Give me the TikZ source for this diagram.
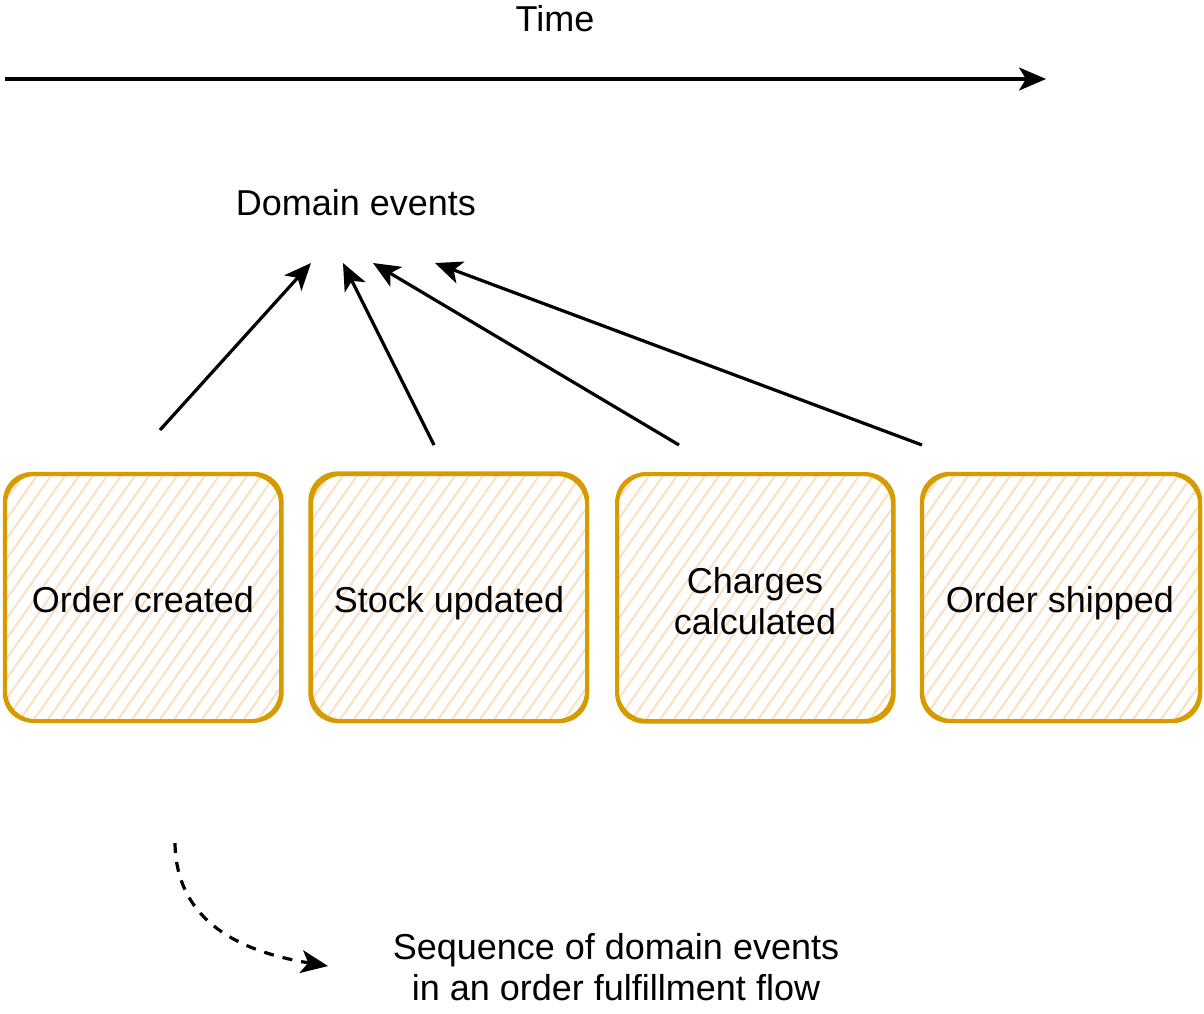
\documentclass[tikz,border=0pt]{standalone}
\usepackage{fontspec}
\setmainfont{Liberation Sans}
\usetikzlibrary{arrows.meta,calc}
\definecolor{boxstroke}{HTML}{D79B00}
\definecolor{hatchcol}{RGB}{252,222,190}
\tikzset{
  txt/.style={font=\fontsize{36}{41}\selectfont, text=black, inner sep=0pt, align=center},
  evbox/.style={draw=boxstroke, line width=4pt, rounded corners=30pt,
    minimum width=276pt, minimum height=247pt, inner sep=0pt,
    path picture={
      \foreach \i in {-16,...,22}
        \draw[hatchcol, line width=1.9pt]
          ($(path picture bounding box.south west)+(\i*14pt,0pt)$) -- ++(176pt,251pt);
    }},
  sketch/.style={draw=boxstroke, line width=2.2pt, rounded corners=28pt},
  arr/.style={line width=3.2pt, -{Stealth[length=27pt,width=23pt,inset=7pt]}},
  darr/.style={line width=3.2pt, dash pattern=on 10pt off 9pt,
    -{Stealth[length=27pt,width=23pt,inset=7pt]}}
}
\begin{document}
\begin{tikzpicture}[x=1pt,y=-1pt]
\useasboundingbox (0,0) rectangle (1204,1013);
% time axis
\node[txt] (time) at (555,19) {Time};
\coordinate (t0) at (5,79);
\coordinate (t1) at (1046,79);
\draw[arr] (t0) -- (t1);
% domain events
\node[txt] (de) at (356,203) {Domain events};
% boxes
\node[evbox] (b1) at (143,597.5) {};
\node[evbox] (b2) at (449,597.5) {};
\node[evbox] (b3) at (755,597.5) {};
\node[evbox, minimum width=278pt] (b4) at (1061,597.5) {};
\draw[sketch] ([shift={(1pt,1.5pt)}]b1.south west) rectangle ([shift={(-0.5pt,-1pt)}]b1.north east);
\draw[sketch] ([shift={(0.5pt,1pt)}]b2.south west) rectangle ([shift={(-1pt,-0.5pt)}]b2.north east);
\draw[sketch] ([shift={(1.5pt,0.5pt)}]b3.south west) rectangle ([shift={(-0.5pt,-1.5pt)}]b3.north east);
\draw[sketch] ([shift={(1pt,1pt)}]b4.south west) rectangle ([shift={(-1pt,-1pt)}]b4.north east);
\node[txt, anchor=base] (l1) at (143,612.5) {Order created};
\node[txt, anchor=base] (l2) at (449,612.5) {Stock updated};
\node[txt] (l3) at (755,601) {Charges\\calculated};
\node[txt, anchor=base] (l4) at (1060,612.5) {Order shipped};
% arrows to domain events
\coordinate (s1) at (160,430);
\coordinate (s2) at (434,445);
\coordinate (s3) at (679,445);
\coordinate (s4) at (922,445);
\coordinate (e1) at (311,263);
\coordinate (e2) at (343,263);
\coordinate (e3) at (373,263);
\coordinate (e4) at (435,263);
\draw[arr] (s1) -- (e1);
\draw[arr] (s2) -- (e2);
\draw[arr] (s3) -- (e3);
\draw[arr] (s4) -- (e4);
% dashed curve
\coordinate (c0) at (175,843);
\coordinate (c1) at (328,966);
\draw[darr] (c0) .. controls (176,915) and (230,950) .. (c1);
% caption
\node[txt] (cap) at (616,967) {Sequence of domain events\\in an order fulfillment flow};
\end{tikzpicture}
\end{document}
